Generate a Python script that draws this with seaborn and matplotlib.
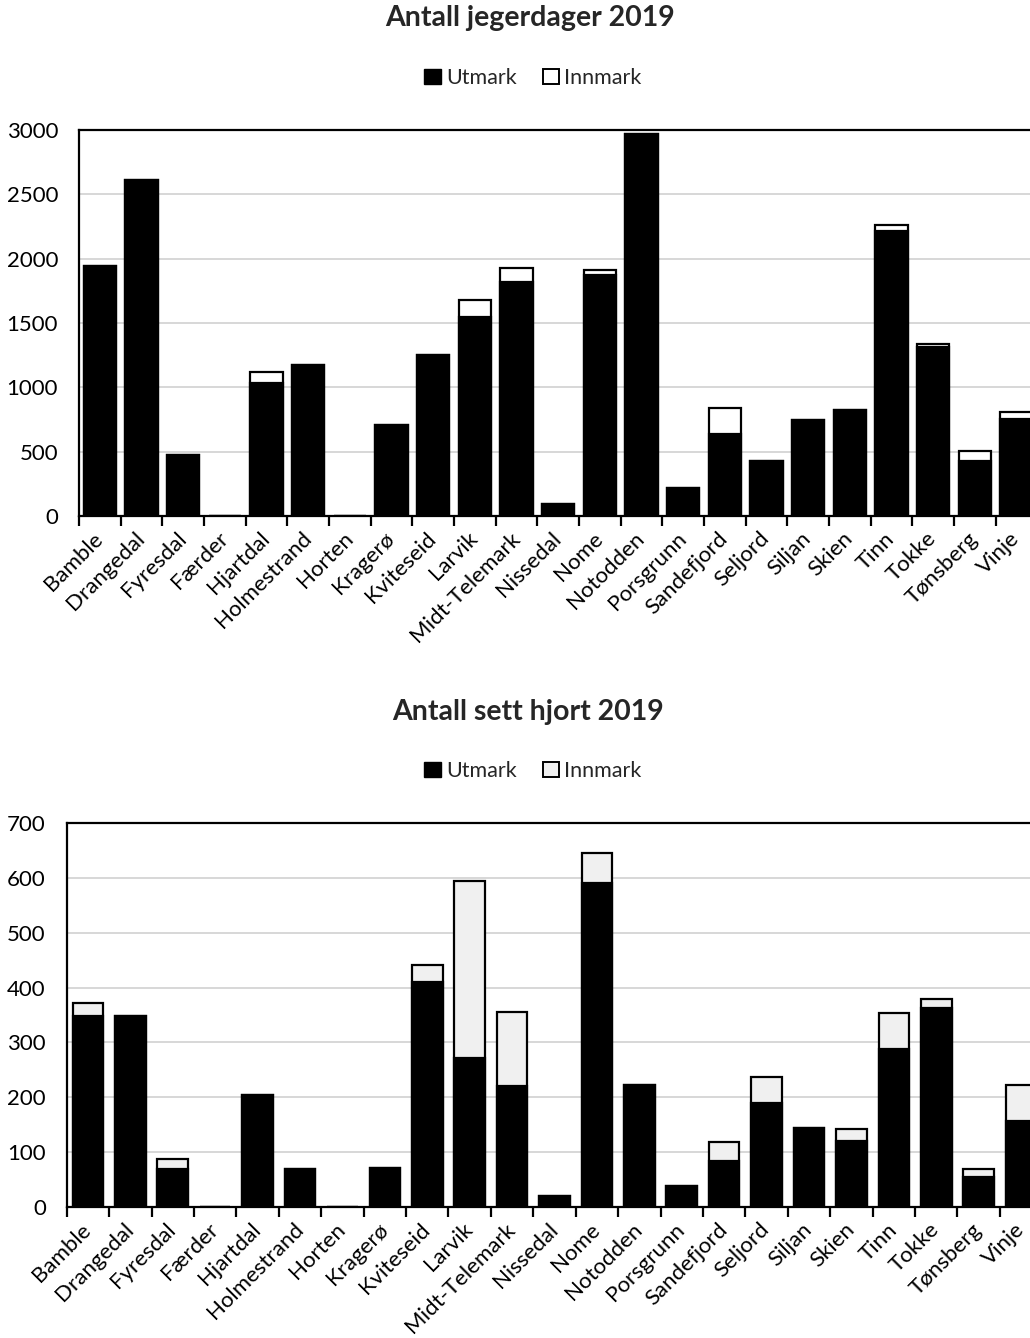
import matplotlib
matplotlib.use("Agg")
import matplotlib.pyplot as plt
from matplotlib.patches import Patch
import pandas as pd
import seaborn as sns

# kommuner (x-axis categories)
kommuner = ["Bamble", "Drangedal", "Fyresdal", "Færder", "Hjartdal", "Holmestrand",
            "Horten", "Kragerø", "Kviteseid", "Larvik", "Midt-Telemark", "Nissedal",
            "Nome", "Notodden", "Porsgrunn", "Sandefjord", "Seljord", "Siljan",
            "Skien", "Tinn", "Tokke", "Tønsberg", "Vinje"]

# Antall jegerdager 2019
jeger_utmark = [1940, 2615, 477, 0, 1030, 1173, 0, 711, 1253, 1550, 1815, 93,
                1875, 2970, 221, 638, 428, 750, 820, 2215, 1310, 431, 753]
jeger_innmark = [0, 0, 0, 0, 90, 0, 0, 0, 0, 128, 110, 0,
                 40, 0, 0, 200, 0, 0, 0, 45, 28, 72, 54]

# Antall sett hjort 2019
hjort_utmark = [349, 348, 69, 0, 204, 69, 0, 71, 411, 271, 221, 20,
                591, 222, 38, 83, 189, 144, 120, 288, 363, 55, 157]
hjort_innmark = [22, 0, 19, 0, 0, 0, 0, 0, 31, 324, 134, 0,
                 55, 0, 0, 35, 48, 0, 23, 65, 17, 15, 65]

sns.set_theme(style="white")
plt.rcParams["font.family"] = ["Lato", "DejaVu Sans"]

fig = plt.figure(figsize=(10.3, 13.38), dpi=100)


def stacked_chart(ax, utmark, innmark, inn_color, ymax, step, width):
    df = pd.DataFrame({"kommune": kommuner, "utmark": utmark, "innmark": innmark})
    df["total"] = df["utmark"] + df["innmark"]
    # total bar first (gives the Innmark segment), utmark drawn on top
    sns.barplot(data=df, x="kommune", y="total", color=inn_color, saturation=1,
                edgecolor="black", linewidth=1.6, width=width, ax=ax)
    sns.barplot(data=df, x="kommune", y="utmark", color="black", saturation=1,
                edgecolor="black", linewidth=1.6, width=width, ax=ax)
    ax.set_xlim(-0.5, len(kommuner) + 0.5)
    ax.set_ylim(0, ymax)
    ax.set_yticks(range(0, ymax + 1, step))
    ax.yaxis.grid(True, color="#d4d4d4", linewidth=1.3)
    ax.set_axisbelow(True)
    ax.set_xlabel("")
    ax.set_ylabel("")
    for s in ["left", "bottom", "top"]:
        ax.spines[s].set_color("black")
        ax.spines[s].set_linewidth(1.6)
    ax.spines["right"].set_visible(False)
    ax.set_xticks(range(len(kommuner)))
    ax.set_xticklabels(kommuner, rotation=45, ha="right", va="center",
                       rotation_mode="anchor", fontsize=16, color="black")
    ax.tick_params(axis="x", length=0, pad=14)
    # category boundary ticks
    ax.set_xticks([i - 0.5 for i in range(len(kommuner) + 1)], minor=True)
    ax.tick_params(axis="x", which="minor", length=7, width=1.6, color="black",
                   direction="out", bottom=True)
    ax.tick_params(axis="y", length=0, labelsize=16, colors="black", pad=15)


ax1 = fig.add_axes([79 / 1030, 1 - 516 / 1338, 1000 / 1030, 386 / 1338])
stacked_chart(ax1, jeger_utmark, jeger_innmark, "white", 3000, 500, 0.78)

ax2 = fig.add_axes([66.7 / 1030, 1 - 1207 / 1338, 1018 / 1030, 384 / 1338])
stacked_chart(ax2, hjort_utmark, hjort_innmark, "#f0f0f0", 700, 100, 0.72)

fig.text(530 / 1030, 1 - 18 / 1338, "Antall jegerdager 2019", ha="center", va="center",
         fontsize=20.5, fontweight="bold")
fig.text(528 / 1030, 1 - 712 / 1338, "Antall sett hjort 2019", ha="center", va="center",
         fontsize=20.5, fontweight="bold")

for ypix, inn_color in [(78, "white"), (771, "#f0f0f0")]:
    handles = [Patch(facecolor="black", edgecolor="black", label="Utmark"),
               Patch(facecolor=inn_color, edgecolor="black", linewidth=1.4, label="Innmark")]
    fig.legend(handles=handles, loc="center", bbox_to_anchor=(533 / 1030, 1 - ypix / 1338),
               ncol=2, frameon=False, fontsize=15.5, handlelength=0.75, handleheight=0.75,
               handletextpad=0.25, columnspacing=1.2)

fig.savefig("out.png", dpi=100)
